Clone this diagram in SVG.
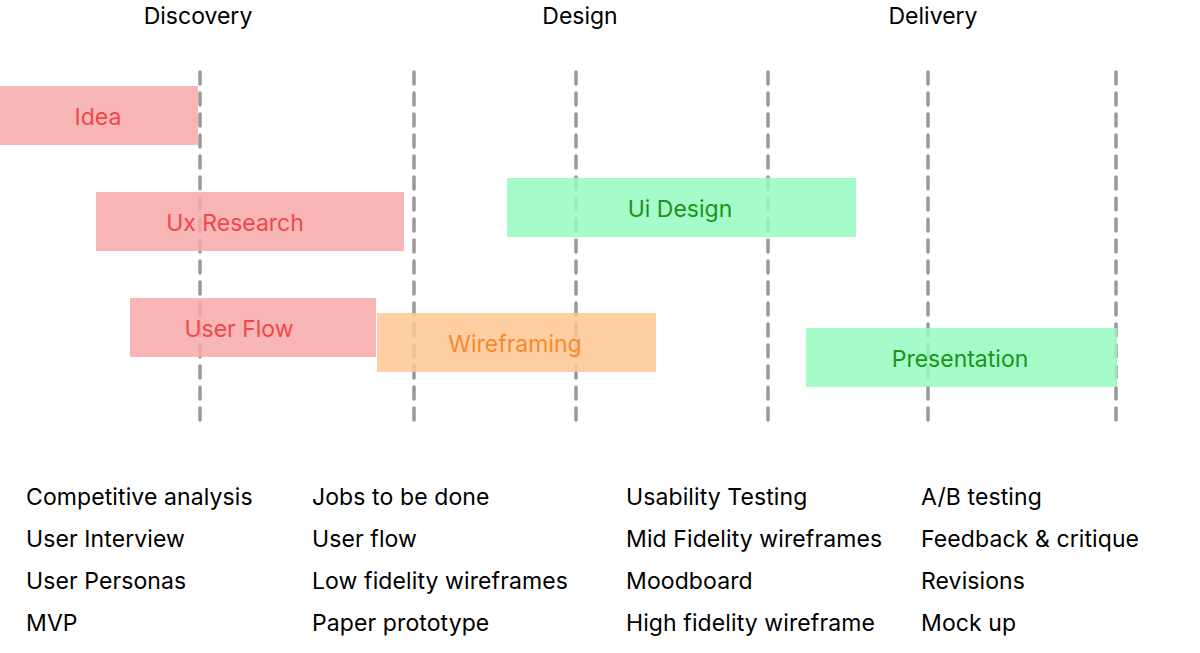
<svg xmlns="http://www.w3.org/2000/svg" width="1200" height="653" viewBox="0 0 1200 653">
<style>
.hdr{font-family:Inter,"Liberation Sans",sans-serif;font-size:23px;fill:#000;text-anchor:middle}
.item{font-family:Inter,"Liberation Sans",sans-serif;font-size:23px;fill:#000;letter-spacing:0.1px}
.grid{stroke:#999;stroke-width:3.5;stroke-dasharray:12 9;stroke-linecap:round;fill:none}
.bar{opacity:0.85}
.red rect{fill:#f8a9a9}
.red text{fill:#f04848}
.orange rect{fill:#ffc793}
.orange text{fill:#f58a2a}
.green rect{fill:#96fbbe}
.green text{fill:#1a931a}
.lbl{font-family:Inter,"Liberation Sans",sans-serif;font-size:23px;text-anchor:middle}
</style>
<rect width="1200" height="653" fill="#fff"/>
<g id="headers">
<text class="hdr" x="198" y="24">Discovery</text>
<text class="hdr" x="580" y="24">Design</text>
<text class="hdr" x="933" y="24">Delivery</text>
</g>
<g id="connectors">
<line class="grid" x1="200" y1="72" x2="200" y2="422"/>
<line class="grid" x1="414" y1="72" x2="414" y2="422"/>
<line class="grid" x1="576" y1="72" x2="576" y2="422"/>
<line class="grid" x1="768" y1="72" x2="768" y2="422"/>
<line class="grid" x1="928" y1="72" x2="928" y2="422"/>
<line class="grid" x1="1116" y1="72" x2="1116" y2="422"/>
</g>
<g id="idea" class="red">
<rect class="bar" x="0" y="86" width="198" height="59"/>
<text class="lbl" x="98" y="125">Idea</text>
</g>
<g id="ux-research" class="red">
<rect class="bar" x="96" y="192" width="308" height="59"/>
<text class="lbl" x="235" y="231">Ux Research</text>
</g>
<g id="user-flow" class="red">
<rect class="bar" x="130" y="298" width="246" height="59"/>
<text class="lbl" x="239" y="337">User Flow</text>
</g>
<g id="wireframing" class="orange">
<rect class="bar" x="377" y="313" width="279" height="59"/>
<text class="lbl" x="515" y="352">Wireframing</text>
</g>
<g id="ui-design" class="green">
<rect class="bar" x="507" y="178" width="349" height="59"/>
<text class="lbl" x="680" y="217">Ui Design</text>
</g>
<g id="presentation" class="green">
<rect class="bar" x="806" y="328" width="311" height="59"/>
<text class="lbl" x="960" y="367">Presentation</text>
</g>
<g id="discovery-list">
<text class="item" x="26" y="505">Competitive analysis</text>
<text class="item" x="26" y="547">User Interview</text>
<text class="item" x="26" y="589">User Personas</text>
<text class="item" x="26" y="631">MVP</text>
</g>
<g id="design-list">
<text class="item" x="312" y="505">Jobs to be done</text>
<text class="item" x="312" y="547">User flow</text>
<text class="item" x="312" y="589">Low fidelity wireframes</text>
<text class="item" x="312" y="631">Paper prototype</text>
</g>
<g id="design-list-2">
<text class="item" x="626" y="505">Usability Testing</text>
<text class="item" x="626" y="547">Mid Fidelity wireframes</text>
<text class="item" x="626" y="589">Moodboard</text>
<text class="item" x="626" y="631">High fidelity wireframe</text>
</g>
<g id="delivery-list">
<text class="item" x="921" y="505">A/B testing</text>
<text class="item" x="921" y="547">Feedback &amp; critique</text>
<text class="item" x="921" y="589">Revisions</text>
<text class="item" x="921" y="631">Mock up</text>
</g>
</svg>
